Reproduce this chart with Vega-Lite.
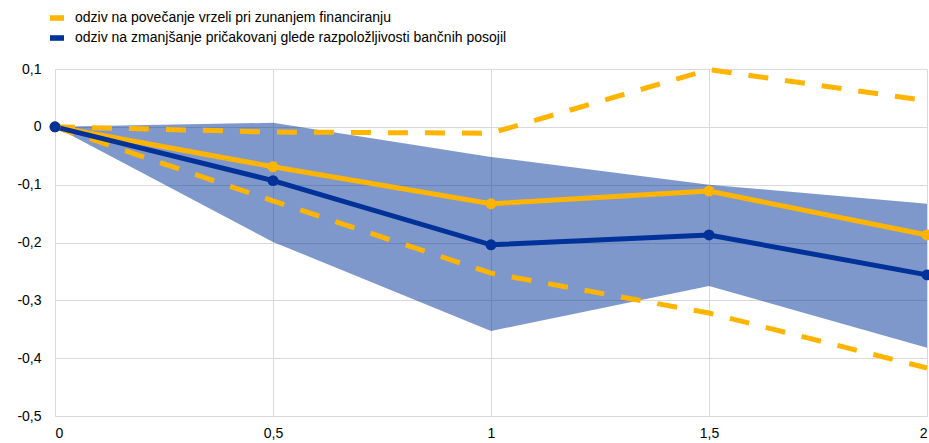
{
  "$schema": "https://vega.github.io/schema/vega-lite/v6.json",
  "autosize": {"type": "none"},
  "width": 872,
  "height": 347,
  "padding": {"left": 55, "top": 69, "right": 2, "bottom": 27},
  "config": {
    "locale": {"number": {"decimal": ",", "thousands": ".", "grouping": [3], "currency": ["", " €"], "minus": "-"}},
    "view": {"stroke": null},
    "font": "Liberation Sans",
    "axis": {"labelFont": "Liberation Sans", "labelFontSize": 14, "labelColor": "#000000", "gridColor": "#d9d9d9", "gridWidth": 1, "domain": false, "ticks": false, "title": null}
  },
  "datasets": {
    "lines": [
      {"x": 0, "series": "odziv na povečanje vrzeli pri zunanjem financiranju", "value": 0},
      {"x": 0.5, "series": "odziv na povečanje vrzeli pri zunanjem financiranju", "value": -0.069},
      {"x": 1, "series": "odziv na povečanje vrzeli pri zunanjem financiranju", "value": -0.133},
      {"x": 1.5, "series": "odziv na povečanje vrzeli pri zunanjem financiranju", "value": -0.111},
      {"x": 2, "series": "odziv na povečanje vrzeli pri zunanjem financiranju", "value": -0.187},
      {"x": 0, "series": "odziv na zmanjšanje pričakovanj glede razpoložljivosti bančnih posojil", "value": 0},
      {"x": 0.5, "series": "odziv na zmanjšanje pričakovanj glede razpoložljivosti bančnih posojil", "value": -0.093},
      {"x": 1, "series": "odziv na zmanjšanje pričakovanj glede razpoložljivosti bančnih posojil", "value": -0.204},
      {"x": 1.5, "series": "odziv na zmanjšanje pričakovanj glede razpoložljivosti bančnih posojil", "value": -0.187},
      {"x": 2, "series": "odziv na zmanjšanje pričakovanj glede razpoložljivosti bančnih posojil", "value": -0.256}
    ],
    "band": [
      {"x": 0, "lo": 0, "hi": 0},
      {"x": 0.5, "lo": -0.199, "hi": 0.007},
      {"x": 1, "lo": -0.353, "hi": -0.052},
      {"x": 1.5, "lo": -0.275, "hi": -0.1},
      {"x": 2, "lo": -0.382, "hi": -0.133}
    ],
    "dashed": [
      {"x": 0, "bound": "upper", "value": 0},
      {"x": 0.5, "bound": "upper", "value": -0.009},
      {"x": 1, "bound": "upper", "value": -0.011},
      {"x": 1.5, "bound": "upper", "value": 0.099},
      {"x": 2, "bound": "upper", "value": 0.045},
      {"x": 0, "bound": "lower", "value": 0},
      {"x": 0.5, "bound": "lower", "value": -0.128},
      {"x": 1, "bound": "lower", "value": -0.253},
      {"x": 1.5, "bound": "lower", "value": -0.322},
      {"x": 2, "bound": "lower", "value": -0.417}
    ]
  },
  "layer": [
    {
      "data": {"name": "band"},
      "mark": {"type": "area", "color": "#003299", "opacity": 0.5},
      "encoding": {
        "x": {"field": "x", "type": "quantitative", "scale": {"domain": [0, 2], "nice": false}, "axis": {"values": [0, 0.5, 1, 1.5, 2], "format": "~g", "labelPadding": 10, "grid": true}},
        "y": {"field": "lo", "type": "quantitative", "scale": {"domain": [-0.5, 0.1], "nice": false}, "axis": {"values": [-0.5, -0.4, -0.3, -0.2, -0.1, 0, 0.1], "format": "~g", "labelPadding": 14, "grid": true}},
        "y2": {"field": "hi"}
      }
    },
    {
      "data": {"name": "dashed"},
      "mark": {"type": "line", "color": "#FFB400", "strokeWidth": 5, "strokeDash": [20, 17]},
      "encoding": {
        "x": {"field": "x", "type": "quantitative"},
        "y": {"field": "value", "type": "quantitative"},
        "detail": {"field": "bound"}
      }
    },
    {
      "data": {"name": "lines"},
      "mark": {"type": "line", "strokeWidth": 5},
      "encoding": {
        "x": {"field": "x", "type": "quantitative"},
        "y": {"field": "value", "type": "quantitative"},
        "color": {"field": "series", "type": "nominal", "sort": null,
          "scale": {"domain": ["odziv na povečanje vrzeli pri zunanjem financiranju", "odziv na zmanjšanje pričakovanj glede razpoložljivosti bančnih posojil"], "range": ["#FFB400", "#003299"]},
          "legend": {"title": null, "orient": "none", "legendX": -5, "legendY": -58, "direction": "vertical", "labelFontSize": 14, "labelFont": "Liberation Sans", "labelColor": "#000000", "labelLimit": 0, "rowPadding": 6, "labelOffset": 11, "symbolType": "M-1,-0.4L1,-0.4L1,0.4L-1,0.4Z", "symbolSize": 196, "symbolStrokeWidth": 0,
            "encode": {"symbols": {"update": {"fill": {"field": "value", "scale": "color"}, "strokeWidth": {"value": 0}}}}}
        }
      }
    },
    {
      "data": {"name": "lines"},
      "mark": {"type": "point", "filled": true, "opacity": 1, "size": 120},
      "encoding": {
        "x": {"field": "x", "type": "quantitative"},
        "y": {"field": "value", "type": "quantitative"},
        "color": {"field": "series", "type": "nominal", "sort": null}
      }
    }
  ]
}
